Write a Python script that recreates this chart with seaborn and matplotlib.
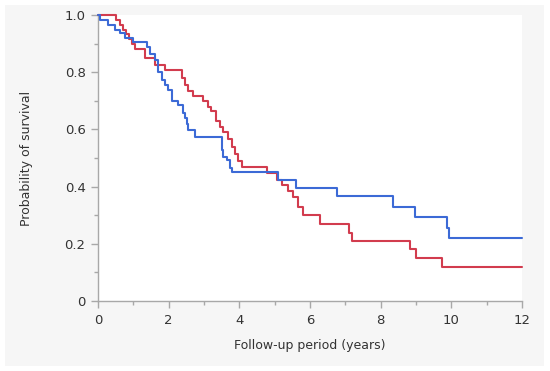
import pandas as pd
import matplotlib.pyplot as plt
from matplotlib.patches import Rectangle
from matplotlib.ticker import MultipleLocator
import seaborn as sns

# Kaplan-Meier steps (time in years, survival)
red_time = [0, 0.52, 0.62, 0.72, 0.80, 0.88, 0.95, 1.05, 1.33, 1.60, 1.90,
            2.37, 2.45, 2.55, 2.70, 2.98, 3.10, 3.20, 3.35, 3.45, 3.55, 3.68,
            3.80, 3.88, 3.95, 4.07, 4.77, 5.06, 5.20, 5.39, 5.52, 5.65, 5.81,
            6.28, 7.09, 7.20, 8.83, 9.00, 9.75, 12.0]
red_surv = [1.0, 0.983, 0.966, 0.949, 0.932, 0.915, 0.898, 0.88, 0.85, 0.825, 0.808,
            0.78, 0.755, 0.735, 0.718, 0.70, 0.68, 0.665, 0.63, 0.61, 0.59, 0.565,
            0.54, 0.515, 0.49, 0.467, 0.446, 0.423, 0.406, 0.385, 0.363, 0.33, 0.301,
            0.268, 0.239, 0.211, 0.181, 0.149, 0.118, 0.118]

blue_time = [0, 0.06, 0.29, 0.48, 0.62, 0.76, 0.98, 1.38, 1.47, 1.61, 1.71,
             1.82, 1.90, 1.99, 2.10, 2.27, 2.41, 2.46, 2.51, 2.56, 2.75, 3.50,
             3.55, 3.64, 3.74, 3.78, 5.10, 5.60, 6.75, 8.36, 8.97, 9.87, 9.93, 12.0]
blue_surv = [1.0, 0.982, 0.965, 0.948, 0.936, 0.92, 0.904, 0.889, 0.862, 0.843, 0.80,
             0.773, 0.755, 0.738, 0.70, 0.685, 0.656, 0.639, 0.62, 0.598, 0.574, 0.528,
             0.505, 0.493, 0.464, 0.452, 0.423, 0.394, 0.367, 0.33, 0.293, 0.254, 0.219, 0.219]

x_ticks = [0, 2, 4, 6, 8, 10, 12]
y_ticks = [0, 0.2, 0.4, 0.6, 0.8, 1.0]
y_labels = ['0', '0.2', '0.4', '0.6', '0.8', '1.0']

df = pd.concat([
    pd.DataFrame({'time': red_time, 'surv': red_surv, 'group': 'red'}),
    pd.DataFrame({'time': blue_time, 'surv': blue_surv, 'group': 'blue'}),
])

sns.set_style('white')
plt.rcParams['font.family'] = ['DejaVu Sans']

fig = plt.figure(figsize=(5.5, 3.71), dpi=100, facecolor='white')
# light gray panel behind the chart
fig.patches.append(Rectangle((5 / 550, 5 / 371), 539 / 550, 361 / 371,
                             transform=fig.transFigure, facecolor='#f6f6f6',
                             edgecolor='none', zorder=-10))
ax = fig.add_axes([98 / 550, 1 - 301 / 371, 424 / 550, 286 / 371])
ax.set_facecolor('white')

palette = {'red': '#d23c4e', 'blue': '#3c6ad6'}
sns.lineplot(data=df, x='time', y='surv', hue='group', palette=palette,
             drawstyle='steps-post', linewidth=1.5, legend=False, ax=ax,
             estimator=None, sort=False, clip_on=False, zorder=3)

ax.set_xlim(0, 12)
ax.set_ylim(0, 1)
ax.set_xticks(x_ticks)
ax.set_yticks(y_ticks)
ax.set_yticklabels(y_labels)
ax.xaxis.set_minor_locator(MultipleLocator(1))
ax.yaxis.set_minor_locator(MultipleLocator(0.1))

for s in ['top', 'right']:
    ax.spines[s].set_visible(False)
for s in ['left', 'bottom']:
    ax.spines[s].set_color('#a8a8a8')
    ax.spines[s].set_linewidth(1.0)

ax.tick_params(which='major', direction='out', length=5, width=1, color='#a8a8a8',
               labelsize=9.5, labelcolor='#333333', pad=4)
ax.tick_params(which='minor', direction='out', length=3, width=1, color='#a8a8a8')
ax.tick_params(axis='x', which='both', bottom=True)
ax.tick_params(axis='y', which='both', left=True)

ax.set_xlabel('Follow-up period (years)', fontsize=9, color='#333333', labelpad=9)
ax.set_ylabel('Probability of survival', fontsize=9, color='#333333', labelpad=23)

plt.savefig('out.png', dpi=100, facecolor='white')
